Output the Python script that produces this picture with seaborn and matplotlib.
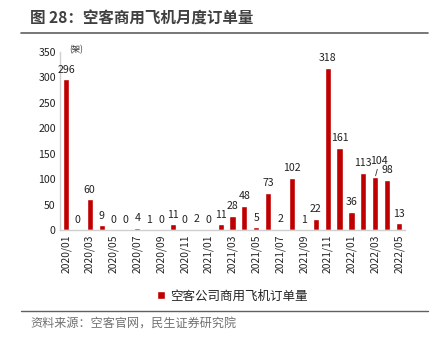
import matplotlib
matplotlib.use("Agg")
import matplotlib.pyplot as plt
import seaborn as sns
import pandas as pd
from matplotlib.lines import Line2D

months = ["2020/01", "2020/02", "2020/03", "2020/04", "2020/05", "2020/06",
          "2020/07", "2020/08", "2020/09", "2020/10", "2020/11", "2020/12",
          "2021/01", "2021/02", "2021/03", "2021/04", "2021/05", "2021/06",
          "2021/07", "2021/08", "2021/09", "2021/10", "2021/11", "2021/12",
          "2022/01", "2022/02", "2022/03", "2022/04", "2022/05"]
orders = [296, 0, 60, 9, 0, 0, 4, 1, 0, 11, 0, 2,
          0, 11, 28, 48, 5, 73, 2, 102, 1, 22, 318, 161,
          36, 113, 104, 98, 13]
yticks = [0, 50, 100, 150, 200, 250, 300, 350]
series_name = "空客公司商用飞机订单量"
title = "图 28：空客商用飞机月度订单量"
source = "资料来源：空客官网，民生证券研究院"
unit = "(架)"

sns.set_theme(style="white")
plt.rcParams['font.family'] = ['Noto Sans CJK SC', 'DejaVu Sans']

df = pd.DataFrame({"month": months, "orders": orders})

fig = plt.figure(figsize=(4.32, 3.44), dpi=100)
ax = fig.add_axes([60/432, 1-230/344, 345/432, 178/344])
sns.barplot(data=df, x="month", y="orders", color="#C00000", width=0.52,
            saturation=1, ax=ax, label=series_name)

ax.set_xlim(-0.5, len(months)-0.5)
ax.set_ylim(0, 350)
ax.set_yticks(yticks)
ax.set_yticklabels([str(v) for v in yticks], fontsize=7.6, color="#222222")
ax.set_xticks(range(0, len(months), 2))
ax.set_xticklabels(months[::2], rotation=90, fontsize=7.4, color="#222222")
ax.tick_params(axis='both', length=0, pad=3)
ax.set_xlabel("")
ax.set_ylabel("")
for s in ["top", "right"]:
    ax.spines[s].set_visible(False)
for s in ["left", "bottom"]:
    ax.spines[s].set_color("#D0D0D0")
    ax.spines[s].set_linewidth(1.0)

for i, v in enumerate(orders):
    if i == 26:
        ax.annotate(str(v), xy=(i, v), xytext=(3, 8), textcoords="offset points",
                    ha="center", va="bottom", fontsize=7.6, color="#222222",
                    arrowprops=dict(arrowstyle="-", color="#333333", lw=0.6,
                                    shrinkA=0, shrinkB=1))
    else:
        ax.annotate(str(v), xy=(i, v), xytext=(0, 3.5), textcoords="offset points",
                    ha="center", va="bottom", fontsize=7.6, color="#222222")

fig.text(69/432, 1-50/344, unit, fontsize=6, color="#333333", va="center")

leg = ax.legend(loc="center", bbox_to_anchor=(232/432, 1-296/344),
                bbox_transform=fig.transFigure, frameon=False, fontsize=9,
                handlelength=0.65, handleheight=0.65, handletextpad=0.4)
for t in leg.get_texts():
    t.set_color("#222222")

fig.text(30/432, 1-19/344, title, fontsize=11.2, fontweight="bold",
         color="#404040", va="center")
fig.add_artist(Line2D([21/432, 428/432], [1-33/344, 1-33/344],
                      color="#606060", lw=1.2, transform=fig.transFigure))
fig.add_artist(Line2D([21/432, 428/432], [1-311/344, 1-311/344],
                      color="#606060", lw=1.0, transform=fig.transFigure))
fig.text(30/432, 1-324/344, source, fontsize=8.7, color="#707070", va="center")

fig.savefig("out.png", dpi=100)
